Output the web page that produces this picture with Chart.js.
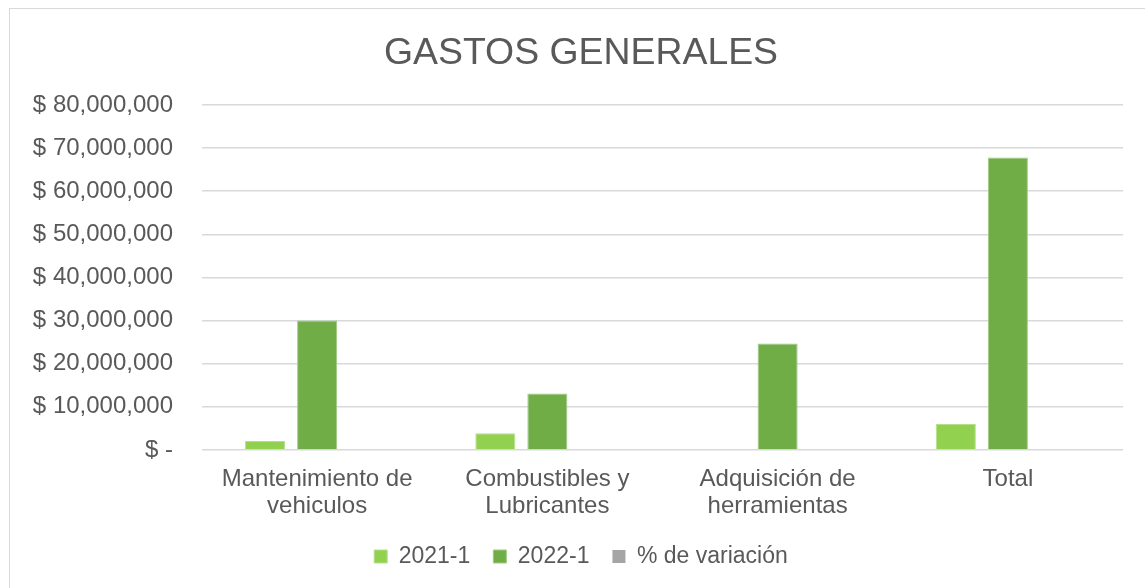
<!DOCTYPE html>
<html>
<head>
<meta charset="utf-8">
<script src="https://cdn.jsdelivr.net/npm/chart.js@4"></script>
<style>
  html, body { margin: 0; padding: 0; background: #fff; overflow: hidden; }
  #box {
    position: absolute; left: 9px; top: 8px;
    width: 1136px; height: 580px;
    border-left: 1px solid #d9d9d9; border-top: 1px solid #d9d9d9;
    background: #fff;
  }
  canvas { display: block; }
</style>
</head>
<body>
<div id="box"><canvas id="gastosChart" width="1136" height="580"></canvas></div>
<script>
// categorias y valores
var categories = [
  ['Mantenimiento de', 'vehiculos'],
  ['Combustibles y', 'Lubricantes'],
  ['Adquisición de', 'herramientas'],
  'Total'
];
var values2021 = [2100000, 3900000, 0, 6000000];
var values2022 = [30000000, 13100000, 24700000, 67800000];
var variacion = [0, 0, 0, 0];
var yTicks = [0, 10000000, 20000000, 30000000, 40000000, 50000000, 60000000, 70000000, 80000000];

var textColor = '#595959';
var fontFamily = '"Liberation Sans", Arial, sans-serif';

document.addEventListener('DOMContentLoaded', function () {
  var ctx = document.getElementById('gastosChart').getContext('2d');
  var chart = new Chart(ctx, {
    type: 'bar',
    data: {
      labels: categories,
      datasets: [{
        label: '2021-1',
        data: values2021,
        backgroundColor: '#92d050',
        borderColor: '#b4e08a',
        borderWidth: 1
      }, {
        label: '2022-1',
        data: values2022,
        backgroundColor: '#70ad47',
        borderColor: '#9ccb83',
        borderWidth: 1
      }, {
        label: '% de variación',
        data: variacion,
        backgroundColor: '#a5a5a5',
        borderWidth: 0
      }]
    },
    options: {
      responsive: false,
      animation: false,
      categoryPercentage: 0.678,
      barPercentage: 0.77,
      layout: {
        padding: { left: 20, right: 14, top: 0, bottom: 11 }
      },
      plugins: {
        title: {
          display: true,
          text: 'GASTOS GENERALES',
          color: textColor,
          font: { family: fontFamily, size: 37.4, weight: 'normal' },
          padding: { top: 22, bottom: 29 }
        },
        legend: {
          position: 'bottom',
          labels: {
            color: textColor,
            font: { family: fontFamily, size: 23 },
            boxWidth: 13,
            boxHeight: 13,
            padding: 23
          }
        },
        tooltip: { enabled: false }
      },
      scales: {
        x: {
          afterFit: function (scale) { scale.height = 72; },
          grid: { display: false },
          border: { display: false },
          ticks: {
            color: textColor,
            font: { family: fontFamily, size: 24, lineHeight: 1.12 },
            padding: 8,
            maxRotation: 0
          }
        },
        y: {
          min: 0,
          max: 80000000,
          afterFit: function (scale) { scale.width = 172; },
          afterBuildTicks: function (scale) {
            scale.ticks = yTicks.map(function (v) { return { value: v }; });
          },
          grid: { color: '#d9d9d9', lineWidth: 1.5, drawTicks: false },
          border: { display: false },
          ticks: {
            color: textColor,
            font: { family: fontFamily, size: 24 },
            padding: 29,
            callback: function (value) {
              if (value === 0) return '$ -';
              return '$ ' + value.toLocaleString('en-US');
            }
          }
        },
        // eje vacio a la derecha, solo deja margen
        yRight: {
          type: 'linear',
          position: 'right',
          afterFit: function (scale) { scale.width = 9; },
          grid: { display: false },
          border: { display: false },
          ticks: { display: false }
        }
      }
    }
  });
});
</script>
</body>
</html>
